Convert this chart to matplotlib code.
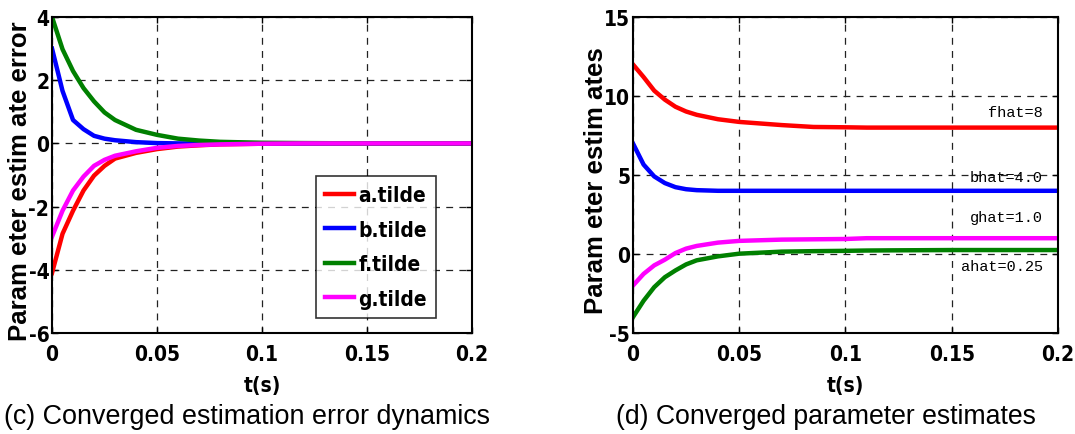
import matplotlib.pyplot as plt

# left panel: estimation errors
t_err = [0, 0.005, 0.01, 0.015, 0.02, 0.025, 0.03, 0.04, 0.05, 0.06, 0.07, 0.08, 0.1, 0.12, 0.15, 0.2]
a_tilde = [-4.1, -2.86, -2.13, -1.49, -1.02, -0.71, -0.48, -0.3, -0.18, -0.1, -0.06, -0.03, -0.01, 0, 0, 0]
b_tilde = [3.0, 1.66, 0.74, 0.45, 0.24, 0.15, 0.1, 0.04, 0.01, 0, 0, 0, 0, 0, 0, 0]
f_tilde = [4.0, 2.98, 2.29, 1.75, 1.33, 0.98, 0.74, 0.43, 0.27, 0.15, 0.09, 0.05, 0.02, 0.01, 0, 0]
g_tilde = [-2.95, -2.13, -1.49, -1.05, -0.71, -0.52, -0.39, -0.25, -0.14, -0.08, -0.05, -0.03, -0.01, 0, 0, 0]

# right panel: parameter estimates
t_est = [0, 0.005, 0.01, 0.015, 0.02, 0.025, 0.03, 0.04, 0.05, 0.07, 0.085, 0.1, 0.11, 0.12, 0.15, 0.2]
f_hat = [12.0, 11.2, 10.34, 9.77, 9.32, 9.02, 8.81, 8.53, 8.36, 8.16, 8.04, 8.02, 8.0, 8.0, 8.0, 8.0]
b_hat = [7.0, 5.66, 4.91, 4.49, 4.23, 4.1, 4.04, 4.0, 4.0, 4.0, 4.0, 4.0, 4.0, 4.0, 4.0, 4.0]
g_hat = [-2.0, -1.26, -0.72, -0.36, 0.06, 0.34, 0.51, 0.72, 0.83, 0.91, 0.93, 0.95, 1.0, 1.0, 1.0, 1.0]
a_hat = [-4.0, -2.96, -2.1, -1.47, -1.04, -0.66, -0.4, -0.15, 0.02, 0.15, 0.18, 0.2, 0.22, 0.23, 0.25, 0.25]

err_labels = ['a.tilde', 'b.tilde', 'f.tilde', 'g.tilde']
notes = ['fhat=8', 'bhat=4.0', 'ghat=1.0', 'ahat=0.25']
note_y = [8.99, 4.87, 2.34, -0.76]
x_ticks = [0, 0.05, 0.1, 0.15, 0.2]
x_ticklabels = ['0', '0.05', '0.1', '0.15', '0.2']

RED, BLUE, GREEN, MAG = '#ff0000', '#0000ff', '#008000', '#ff00ff'
LW = 3.2
# narrow bold look for ticks, legend and x label
NARROW = dict(family='DejaVu Sans', stretch='condensed', weight='bold', size=15)

fig = plt.figure(figsize=(10.75, 4.35), dpi=100)
ax1 = fig.add_axes([0.0484, 0.2322, 0.3907, 0.7264])
ax2 = fig.add_axes([0.5888, 0.2322, 0.3953, 0.7264])


def style(ax, yticks, ylabel, ylab_x):
    ax.set_xlim(0, 0.2)
    ax.set_xticks(x_ticks)
    ax.set_xticklabels(x_ticklabels, **NARROW)
    ax.set_yticks(yticks)
    ax.set_yticklabels([str(v) for v in yticks], **NARROW)
    ax.set_ylim(yticks[0], yticks[-1])
    ax.tick_params(direction='in', length=4, width=1, top=True, right=True)
    ax.tick_params(axis='x', pad=8)
    ax.tick_params(axis='y', pad=2)
    ax.grid(True, color='#222222', linestyle=(0, (5.5, 5)), linewidth=0.9)
    for s in ax.spines.values():
        s.set_linewidth(1.5)
    ax.set_xlabel('t(s)', **NARROW)
    ax.xaxis.set_label_coords(0.5, -0.132)
    ax.set_ylabel(ylabel, family='Liberation Sans', fontweight='bold', fontsize=18.5)
    ax.yaxis.set_label_coords(ylab_x, 0.485)


ax1.plot(t_err, a_tilde, color=RED, lw=LW, label=err_labels[0])
ax1.plot(t_err, b_tilde, color=BLUE, lw=LW, label=err_labels[1])
ax1.plot(t_err, f_tilde, color=GREEN, lw=LW, label=err_labels[2])
ax1.plot(t_err, g_tilde, color=MAG, lw=LW, label=err_labels[3])
style(ax1, [-6, -4, -2, 0, 2, 4], 'Param eter estim ate error', -0.047)
leg = ax1.legend(loc='lower right', bbox_to_anchor=(0.915, 0.047),
                 prop={'family': 'DejaVu Sans', 'stretch': 'condensed', 'weight': 'bold', 'size': 15},
                 frameon=True, fancybox=False, edgecolor='black', handlelength=1.4, handletextpad=0.2,
                 labelspacing=0.7, borderpad=0.45, borderaxespad=0)
leg.get_frame().set_linewidth(1.2)

ax2.plot(t_est, f_hat, color=RED, lw=LW)
ax2.plot(t_est, b_hat, color=BLUE, lw=LW)
ax2.plot(t_est, g_hat, color=MAG, lw=LW)
ax2.plot(t_est, a_hat, color=GREEN, lw=LW)
style(ax2, [-5, 0, 5, 10, 15], 'Param eter estim ates', -0.058)
for txt, yy in zip(notes, note_y):
    ax2.text(0.1929, yy, txt, ha='right', va='center', family='Liberation Mono', fontsize=11)

fig.text(0.23, 0.041, '(c) Converged estimation error dynamics', ha='center', va='center',
         family='Liberation Sans', fontsize=19.4)
fig.text(0.768, 0.041, '(d) Converged parameter estimates', ha='center', va='center',
         family='Liberation Sans', fontsize=19.2)

fig.savefig('out.png', dpi=100)
